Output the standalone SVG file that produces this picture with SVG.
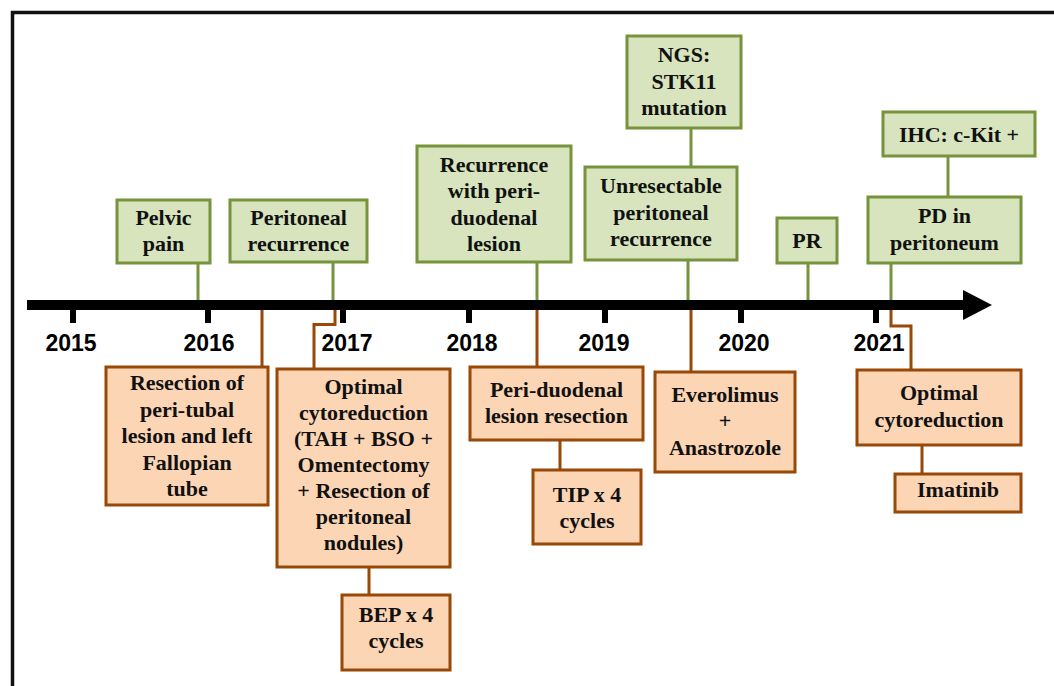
<svg xmlns="http://www.w3.org/2000/svg" width="1054" height="686" viewBox="0 0 1054 686">
<style>
.g rect{fill:#d7e4bd;stroke:#77933c;stroke-width:3}
.o rect{fill:#fcd5b5;stroke:#984807;stroke-width:3}
text.t{font-family:"Liberation Serif","Times New Roman",serif;font-weight:bold;font-size:22px;fill:#111;text-anchor:middle}
text.y{font-family:"Liberation Sans",Arial,sans-serif;font-weight:bold;font-size:23px;fill:#000;text-anchor:middle}
.cg{stroke:#77933c;stroke-width:3;fill:none}
.co{stroke:#984807;stroke-width:3;fill:none}
</style>
<rect x="0" y="0" width="1054" height="686" fill="#fff"/>
<rect x="12.5" y="12.5" width="1080" height="720" fill="none" stroke="#111" stroke-width="3.5"/>

<g id="timeline">
<rect x="27" y="300" width="938" height="10" fill="#000"/>
<polygon points="963,290 992,305 963,320" fill="#000"/>
<g fill="#000">
<rect x="70" y="309" width="6" height="14"/>
<rect x="205" y="309" width="6" height="14"/>
<rect x="340" y="309" width="6" height="14"/>
<rect x="466" y="309" width="6" height="14"/>
<rect x="602" y="309" width="6" height="14"/>
<rect x="738" y="309" width="6" height="14"/>
<rect x="873" y="309" width="6" height="14"/>
</g>
<text class="y" x="71" y="351">2015</text>
<text class="y" x="209" y="351">2016</text>
<text class="y" x="347" y="351">2017</text>
<text class="y" x="472" y="351">2018</text>
<text class="y" x="604" y="351">2019</text>
<text class="y" x="744" y="351">2020</text>
<text class="y" x="879" y="351">2021</text>
</g>

<g id="connectors">
<path class="cg" d="M198,263 V300"/>
<path class="cg" d="M333,262 V300"/>
<path class="cg" d="M537,262 V300"/>
<path class="cg" d="M691,128 V167"/>
<path class="cg" d="M688,260 V300"/>
<path class="cg" d="M808,263 V300"/>
<path class="cg" d="M948,156 V197"/>
<path class="cg" d="M891,263 V300"/>
<path class="co" d="M262,310 V367"/>
<path class="co" d="M335,310 V324.5 H314 V369"/>
<path class="co" d="M369,567 V595"/>
<path class="co" d="M537,310 V367"/>
<path class="co" d="M560,440 V470"/>
<path class="co" d="M691,310 V372"/>
<path class="co" d="M891,310 V326 H911 V370"/>
<path class="co" d="M922,445 V474"/>
</g>

<g id="pelvic-pain" class="g">
<rect x="117" y="200" width="93" height="63"/>
<text class="t" x="163.5" y="225">Pelvic</text>
<text class="t" x="163.5" y="251">pain</text>
</g>
<g id="peritoneal-recurrence" class="g">
<rect x="230" y="200" width="137" height="62"/>
<text class="t" x="298.5" y="225">Peritoneal</text>
<text class="t" x="298.5" y="251">recurrence</text>
</g>
<g id="recurrence-periduodenal" class="g">
<rect x="417" y="146" width="154" height="116"/>
<text class="t" x="494" y="172">Recurrence</text>
<text class="t" x="494" y="198">with peri-</text>
<text class="t" x="494" y="225">duodenal</text>
<text class="t" x="494" y="251">lesion</text>
</g>
<g id="ngs" class="g">
<rect x="627" y="36" width="114" height="92"/>
<text class="t" x="684" y="62">NGS:</text>
<text class="t" x="684" y="89">STK11</text>
<text class="t" x="684" y="115">mutation</text>
</g>
<g id="unresectable" class="g">
<rect x="585" y="167" width="152" height="93"/>
<text class="t" x="661" y="193">Unresectable</text>
<text class="t" x="661" y="220">peritoneal</text>
<text class="t" x="661" y="246">recurrence</text>
</g>
<g id="pr" class="g">
<rect x="777" y="218" width="60" height="45"/>
<text class="t" x="807" y="248">PR</text>
</g>
<g id="ihc" class="g">
<rect x="883" y="112" width="152" height="44"/>
<text class="t" x="959" y="142">IHC: c-Kit +</text>
</g>
<g id="pd-peritoneum" class="g">
<rect x="868" y="197" width="153" height="66"/>
<text class="t" x="944.5" y="223">PD in</text>
<text class="t" x="944.5" y="250">peritoneum</text>
</g>

<g id="resection-peritubal" class="o">
<rect x="106" y="367" width="162" height="138"/>
<text class="t" x="187" y="390">Resection of</text>
<text class="t" x="187" y="417">peri-tubal</text>
<text class="t" x="187" y="443">lesion and left</text>
<text class="t" x="187" y="470">Fallopian</text>
<text class="t" x="187" y="496">tube</text>
</g>
<g id="optimal-cytoreduction-2017" class="o">
<rect x="277" y="369" width="173" height="198"/>
<text class="t" x="363.5" y="394">Optimal</text>
<text class="t" x="363.5" y="420">cytoreduction</text>
<text class="t" x="363.5" y="446">(TAH + BSO +</text>
<text class="t" x="363.5" y="472">Omentectomy</text>
<text class="t" x="363.5" y="498">+ Resection of</text>
<text class="t" x="363.5" y="524">peritoneal</text>
<text class="t" x="363.5" y="550">nodules)</text>
</g>
<g id="bep" class="o">
<rect x="342" y="595" width="108" height="75"/>
<text class="t" x="396" y="622">BEP x 4</text>
<text class="t" x="396" y="648">cycles</text>
</g>
<g id="periduodenal-resection" class="o">
<rect x="470" y="367" width="173" height="73"/>
<text class="t" x="556.5" y="397">Peri-duodenal</text>
<text class="t" x="556.5" y="423">lesion resection</text>
</g>
<g id="tip" class="o">
<rect x="533" y="470" width="108" height="74"/>
<text class="t" x="587" y="502">TIP x 4</text>
<text class="t" x="587" y="528">cycles</text>
</g>
<g id="everolimus" class="o">
<rect x="655" y="372" width="140" height="100"/>
<text class="t" x="725" y="402">Everolimus</text>
<text class="t" x="725" y="428">+</text>
<text class="t" x="725" y="455">Anastrozole</text>
</g>
<g id="optimal-cytoreduction-2021" class="o">
<rect x="857" y="370" width="164" height="75"/>
<text class="t" x="939" y="400">Optimal</text>
<text class="t" x="939" y="427">cytoreduction</text>
</g>
<g id="imatinib" class="o">
<rect x="895" y="474" width="126" height="38"/>
<text class="t" x="958" y="497">Imatinib</text>
</g>
</svg>
